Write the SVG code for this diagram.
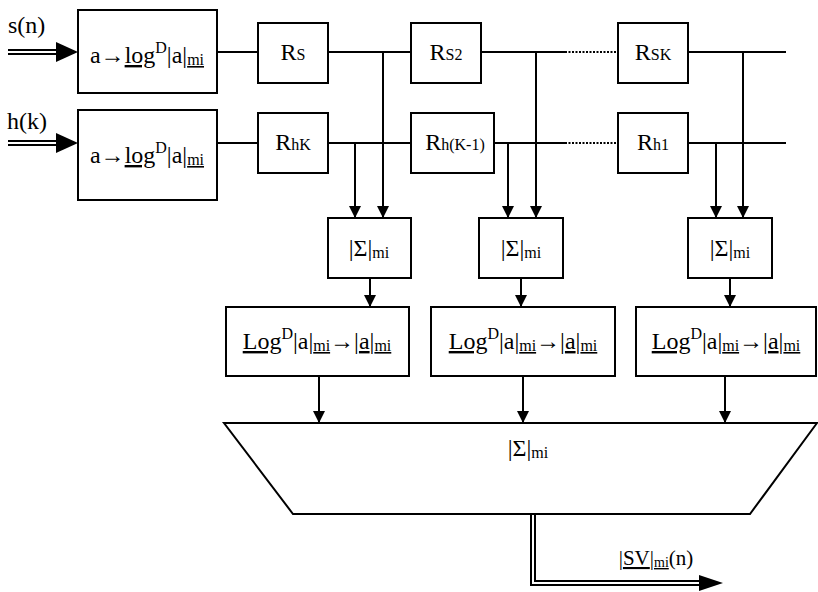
<svg xmlns="http://www.w3.org/2000/svg" width="818" height="592" viewBox="0 0 818 592">
<style>
  .box { fill: #fff; stroke: #000; stroke-width: 2; }
  .ln { fill: none; stroke: #000; stroke-width: 2; }
  .dot { fill: none; stroke: #000; stroke-width: 2; stroke-dasharray: 2 1.5; }
  .arr { fill: none; stroke: #000; stroke-width: 2; marker-end: url(#ah); }
  .dbl-o { fill: none; stroke: #000; stroke-width: 6; }
  .dbl-i { fill: none; stroke: #fff; stroke-width: 2; }
  .head { fill: #000; }
  text { font-family: "Liberation Serif", "DejaVu Serif", serif; font-size: 24px; fill: #000; }
  .sm { font-size: 16px; }
  .u { text-decoration: underline; }
  .out { font-size: 21px; }
  .out .sm { font-size: 14px; }
</style>
<defs>
  <marker id="ah" markerUnits="userSpaceOnUse" markerWidth="12" markerHeight="16" viewBox="0 0 12 16" refX="12" refY="6" orient="auto">
    <path d="M0,0 L12,6 L0,12 z" fill="#000"/>
  </marker>
</defs>
<rect width="818" height="592" fill="#fff"/>

<g id="connectors">
  <path class="dbl-o" d="M8,52 H60"/><path class="dbl-i" d="M8,52 H60"/>
  <path class="head" d="M56,42 L78,52 L56,62 z"/>
  <path class="dbl-o" d="M8,143 H60"/><path class="dbl-i" d="M8,143 H60"/>
  <path class="head" d="M56,133 L78,143 L56,153 z"/>
  <path class="ln" d="M217,52 H258 M328,52 H411 M481,52 H565 M688,52 H786"/>
  <path class="dot" d="M565,52 H618"/>
  <path class="ln" d="M217,143 H258 M328,143 H411 M494,143 H565 M688,143 H786"/>
  <path class="dot" d="M565,143 H618"/>
  <path class="arr" d="M355,143 V218"/>
  <path class="arr" d="M383,52 V218"/>
  <path class="arr" d="M508,143 V218"/>
  <path class="arr" d="M536,52 V218"/>
  <path class="arr" d="M716,143 V218"/>
  <path class="arr" d="M743,52 V218"/>
  <path class="arr" d="M370,278 V307"/>
  <path class="arr" d="M521,278 V307"/>
  <path class="arr" d="M730,278 V307"/>
  <path class="arr" d="M319,377 V423"/>
  <path class="arr" d="M523,377 V423"/>
  <path class="arr" d="M725,377 V423"/>
  <path class="dbl-o" d="M533,514 V583 H702"/><path class="dbl-i" d="M533,514 V583 H702"/>
  <path class="head" d="M699,575 L723,583 L699,591 z"/>
</g>

<g id="in-s">
  <text x="8" y="33">s(n)</text>
</g>
<g id="in-h">
  <text x="7" y="129">h(k)</text>
</g>

<g id="conv-s">
  <rect class="box" x="78" y="10" width="139" height="83"/>
  <text x="147" y="63" text-anchor="middle">a→<tspan class="u">log</tspan><tspan class="sm" dy="-10">D</tspan><tspan dy="10">|a|</tspan><tspan class="sm u" dy="2">mi</tspan></text>
</g>
<g id="conv-h">
  <rect class="box" x="78" y="110" width="139" height="90"/>
  <text x="147" y="163" text-anchor="middle">a→<tspan class="u">log</tspan><tspan class="sm" dy="-10">D</tspan><tspan dy="10">|a|</tspan><tspan class="sm u" dy="2">mi</tspan></text>
</g>

<g id="Rs">
  <rect class="box" x="258" y="23" width="70" height="60"/>
  <text x="293" y="60" text-anchor="middle">R<tspan class="sm">S</tspan></text>
</g>
<g id="Rs2">
  <rect class="box" x="411" y="23" width="70" height="60"/>
  <text x="446" y="60" text-anchor="middle">R<tspan class="sm">S2</tspan></text>
</g>
<g id="RsK">
  <rect class="box" x="618" y="23" width="70" height="60"/>
  <text x="653" y="60" text-anchor="middle">R<tspan class="sm">SK</tspan></text>
</g>
<g id="RhK">
  <rect class="box" x="258" y="113" width="70" height="60"/>
  <text x="293" y="150" text-anchor="middle">R<tspan class="sm">hK</tspan></text>
</g>
<g id="RhK1">
  <rect class="box" x="411" y="113" width="83" height="60"/>
  <text x="455" y="150" text-anchor="middle">R<tspan class="sm">h(K-1)</tspan></text>
</g>
<g id="Rh1">
  <rect class="box" x="618" y="113" width="70" height="60"/>
  <text x="653" y="150" text-anchor="middle">R<tspan class="sm">h1</tspan></text>
</g>

<g id="sum1">
  <rect class="box" x="328" y="218" width="83" height="60"/>
  <text x="369" y="256" text-anchor="middle">|Σ|<tspan class="sm" dy="2">mi</tspan></text>
</g>
<g id="sum2">
  <rect class="box" x="479" y="218" width="84" height="60"/>
  <text x="521" y="256" text-anchor="middle">|Σ|<tspan class="sm" dy="2">mi</tspan></text>
</g>
<g id="sum3">
  <rect class="box" x="688" y="218" width="84" height="60"/>
  <text x="730" y="256" text-anchor="middle">|Σ|<tspan class="sm" dy="2">mi</tspan></text>
</g>

<g id="log1">
  <rect class="box" x="226" y="307" width="183" height="69"/>
  <text x="317" y="349" text-anchor="middle"><tspan class="u">Log</tspan><tspan class="sm" dy="-10">D</tspan><tspan dy="10">|a|</tspan><tspan class="sm u" dy="2">mi</tspan><tspan dy="-2">→|</tspan><tspan class="u">a</tspan>|<tspan class="sm u" dy="2">mi</tspan></text>
</g>
<g id="log2">
  <rect class="box" x="431" y="307" width="184" height="69"/>
  <text x="523" y="349" text-anchor="middle"><tspan class="u">Log</tspan><tspan class="sm" dy="-10">D</tspan><tspan dy="10">|a|</tspan><tspan class="sm u" dy="2">mi</tspan><tspan dy="-2">→|</tspan><tspan class="u">a</tspan>|<tspan class="sm u" dy="2">mi</tspan></text>
</g>
<g id="log3">
  <rect class="box" x="636" y="307" width="180" height="69"/>
  <text x="726" y="349" text-anchor="middle"><tspan class="u">Log</tspan><tspan class="sm" dy="-10">D</tspan><tspan dy="10">|a|</tspan><tspan class="sm u" dy="2">mi</tspan><tspan dy="-2">→|</tspan><tspan class="u">a</tspan>|<tspan class="sm u" dy="2">mi</tspan></text>
</g>

<g id="final-sum">
  <path class="box" d="M224,423 H817 L750,514 H293 Z"/>
  <text x="528" y="456" text-anchor="middle">|Σ|<tspan class="sm" dy="2">mi</tspan></text>
</g>

<g id="out">
  <text class="out" x="656" y="565" text-anchor="middle">|<tspan class="u">SV</tspan>|<tspan class="sm u" dy="2">mi</tspan><tspan dy="-2">(n)</tspan></text>
</g>
</svg>
